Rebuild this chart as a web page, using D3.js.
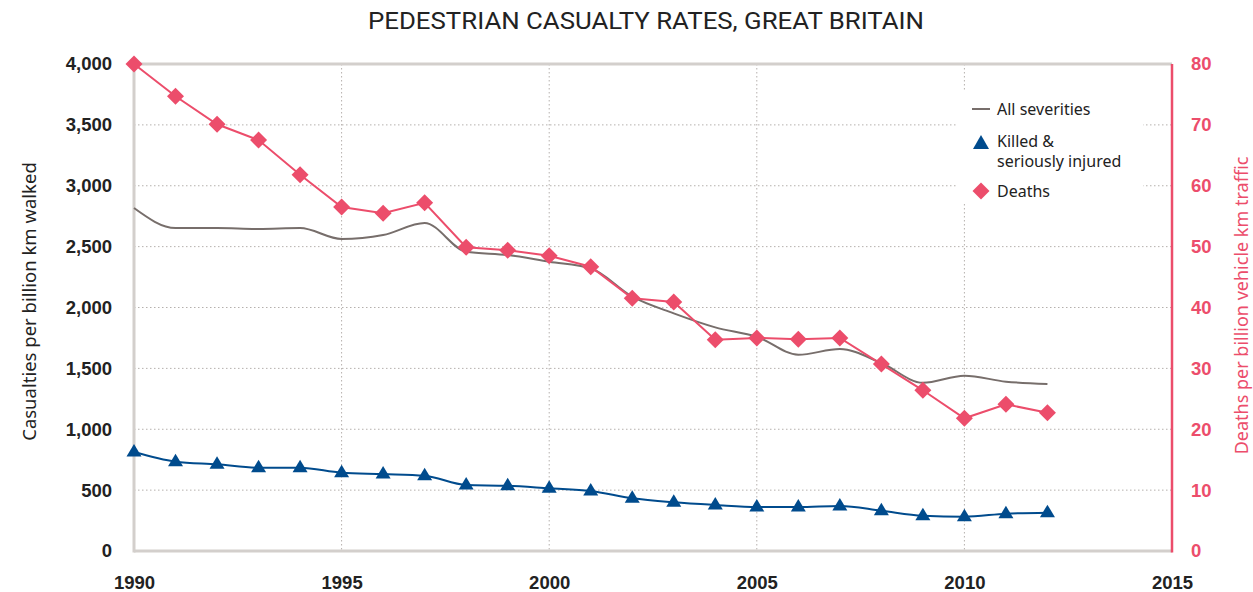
<!DOCTYPE html>
<html>
<head>
<meta charset="utf-8">
<script src="https://cdn.jsdelivr.net/npm/d3@7"></script>
<style>
  body { margin: 0; background: #fff; }
  svg { font-family: "Noto Sans", sans-serif; }
  .tick text { font-weight: bold; font-size: 18.5px; }
</style>
</head>
<body>
<div id="vis"></div>
<script>
// data
const years = [1990, 1991, 1992, 1993, 1994, 1995, 1996, 1997, 1998, 1999, 2000,
  2001, 2002, 2003, 2004, 2005, 2006, 2007, 2008, 2009, 2010, 2011, 2012]
const allSeverities = [2817, 2653, 2653, 2645, 2653, 2563, 2595, 2694, 2458, 2431, 2376,
  2322, 2089, 1952, 1837, 1760, 1612, 1659, 1544, 1382, 1440, 1391, 1372]
const ksi = [813, 734, 712, 684, 684, 643, 632, 618, 542, 536, 515,
  493, 433, 400, 378, 361, 361, 370, 331, 290, 282, 306, 315]
const deaths = [80, 74.7, 70.1, 67.5, 61.8, 56.5, 55.5, 57.2, 49.9, 49.4, 48.5,
  46.7, 41.5, 40.9, 34.7, 35.0, 34.8, 35.0, 30.7, 26.4, 21.8, 24.1, 22.7]
const leftTicks = [0, 500, 1000, 1500, 2000, 2500, 3000, 3500, 4000]
const rightTicks = [0, 10, 20, 30, 40, 50, 60, 70, 80]
const xTicks = [1990, 1995, 2000, 2005, 2010, 2015]

const W = 1253, H = 592
const margin = {top: 64, right: 81, bottom: 41, left: 134}
const width = W - margin.left - margin.right
const height = H - margin.top - margin.bottom

const pink = '#ec4d6b', blue = '#004b8d', grey = '#776e6b', axisGrey = '#d3cfcc'

const svg = d3.select('#vis').append('svg')
  .attr('width', W).attr('height', H)

const g = svg.append('g').attr('transform', `translate(${margin.left},${margin.top})`)

const x = d3.scaleLinear().domain([1990, 2015]).range([0, width])
const yL = d3.scaleLinear().domain([0, 4000]).range([height, 0])
const yR = d3.scaleLinear().domain([0, 80]).range([height, 0])

// gridlines
g.append('g').selectAll('line')
  .data(leftTicks.slice(1, -1))
  .join('line')
  .attr('x1', 0).attr('x2', width)
  .attr('y1', d => yL(d)).attr('y2', d => yL(d))
  .attr('stroke', '#b5b0ad').attr('stroke-width', 1).attr('stroke-dasharray', '1.5,2.5')
g.append('g').selectAll('line')
  .data(xTicks.slice(1, -1))
  .join('line')
  .attr('x1', d => x(d)).attr('x2', d => x(d))
  .attr('y1', 0).attr('y2', height)
  .attr('stroke', '#b5b0ad').attr('stroke-width', 1).attr('stroke-dasharray', '1.5,2.5')

// frame
g.append('line').attr('x1', 0).attr('x2', width).attr('y1', 0).attr('y2', 0)
  .attr('stroke', axisGrey).attr('stroke-width', 3)
g.append('line').attr('x1', 0).attr('x2', width).attr('y1', height).attr('y2', height)
  .attr('stroke', axisGrey).attr('stroke-width', 3)
g.append('line').attr('x1', 0).attr('x2', 0).attr('y1', -1).attr('y2', height + 1.5)
  .attr('stroke', axisGrey).attr('stroke-width', 3)
g.append('line').attr('x1', width).attr('x2', width).attr('y1', 0).attr('y2', height + 1.5)
  .attr('stroke', pink).attr('stroke-width', 2.5)

// axes
const xAxis = g.append('g').attr('transform', `translate(0,${height})`)
  .call(d3.axisBottom(x).tickValues(xTicks).tickFormat(d3.format('d')).tickSize(0).tickPadding(25))
xAxis.select('.domain').remove()
xAxis.selectAll('text').attr('fill', '#222')

const leftAxis = g.append('g')
  .call(d3.axisLeft(yL).tickValues(leftTicks).tickFormat(d3.format(',')).tickSize(0).tickPadding(22))
leftAxis.select('.domain').remove()
leftAxis.selectAll('text').attr('fill', '#222')

const rightAxis = g.append('g').attr('transform', `translate(${width},0)`)
  .call(d3.axisRight(yR).tickValues(rightTicks).tickSize(0).tickPadding(19))
rightAxis.select('.domain').remove()
rightAxis.selectAll('text').attr('fill', pink)

// axis titles
svg.append('text')
  .attr('transform', `translate(36,${margin.top + height / 2 - 6}) rotate(-90)`)
  .attr('text-anchor', 'middle')
  .attr('font-size', 18.5).attr('fill', '#222')
  .text('Casualties per billion km walked')
svg.append('text')
  .attr('transform', `translate(1248,${margin.top + height / 2 - 2}) rotate(-90)`)
  .attr('text-anchor', 'middle')
  .attr('font-size', 18).attr('fill', pink)
  .text('Deaths per billion vehicle km traffic')

// title
svg.append('text')
  .attr('x', 646).attr('y', 29)
  .attr('text-anchor', 'middle')
  .attr('font-family', 'Roboto').attr('font-size', 24).attr('fill', '#222')
  .attr('textLength', 556).attr('lengthAdjust', 'spacingAndGlyphs')
  .text('PEDESTRIAN CASUALTY RATES, GREAT BRITAIN')

// series
const all = years.map((yr, i) => ({year: yr, v: allSeverities[i]}))
const ks = years.map((yr, i) => ({year: yr, v: ksi[i]}))
const de = years.map((yr, i) => ({year: yr, v: deaths[i]}))

g.append('path').datum(all)
  .attr('fill', 'none').attr('stroke', grey).attr('stroke-width', 2)
  .attr('d', d3.line().x(d => x(d.year)).y(d => yL(d.v)).curve(d3.curveMonotoneX))

g.append('path').datum(ks)
  .attr('fill', 'none').attr('stroke', blue).attr('stroke-width', 2)
  .attr('d', d3.line().x(d => x(d.year)).y(d => yL(d.v)).curve(d3.curveMonotoneX))
g.append('g').selectAll('path')
  .data(ks)
  .join('path')
  .attr('transform', d => `translate(${x(d.year)},${yL(d.v) - 1})`)
  .attr('d', 'M0,-7L7.5,5.5L-7.5,5.5Z')
  .attr('fill', blue)

g.append('path').datum(de)
  .attr('fill', 'none').attr('stroke', pink).attr('stroke-width', 2)
  .attr('d', d3.line().x(d => x(d.year)).y(d => yR(d.v)))
g.append('g').selectAll('path')
  .data(de)
  .join('path')
  .attr('transform', d => `translate(${x(d.year)},${yR(d.v)})`)
  .attr('d', 'M0,-8.5L8.5,0L0,8.5L-8.5,0Z')
  .attr('fill', pink)

// legend
const lg = svg.append('g').attr('transform', 'translate(958,92)')
lg.append('rect').attr('width', 185).attr('height', 112).attr('fill', '#fff')
lg.append('line').attr('x1', 14).attr('x2', 32).attr('y1', 17).attr('y2', 17)
  .attr('stroke', grey).attr('stroke-width', 2)
lg.append('path').attr('transform', 'translate(23,51)').attr('d', 'M0,-8L8,6L-8,6Z').attr('fill', blue)
lg.append('path').attr('transform', 'translate(23,99)').attr('d', 'M0,-8.5L8.5,0L0,8.5L-8.5,0Z').attr('fill', pink)
const lt = lg.append('g').attr('font-size', 16).attr('fill', '#222')
lt.append('text').attr('x', 39).attr('y', 23).text('All severities')
lt.append('text').attr('x', 39).attr('y', 55).text('Killed &')
lt.append('text').attr('x', 39).attr('y', 75).text('seriously injured')
lt.append('text').attr('x', 39).attr('y', 105).text('Deaths')
</script>
</body>
</html>
